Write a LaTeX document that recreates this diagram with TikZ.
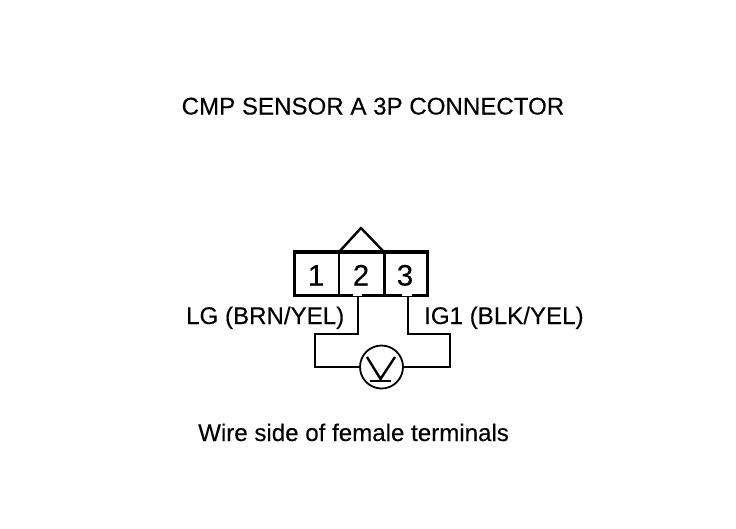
\documentclass[tikz,border=0pt]{standalone}
\usepackage{fontspec}
\setmainfont{Liberation Sans}[FakeBold=0.25]
\newfontfamily\lblfont{Liberation Sans}[FakeBold=0.2]
\tikzset{
 lbl/.style={inner sep=0pt,anchor=base west,font=\lblfont\fontsize{24.1}{28}\selectfont},
 pin/.style={inner sep=0pt,anchor=base,font=\lblfont\fontsize{29.5}{32}\selectfont},
 thick line/.style={line width=3.2pt,line join=miter},
 cavity/.style={line width=2.2pt},
 wire/.style={line width=1.5pt,line join=miter},
}
\begin{document}
\begin{tikzpicture}[x=1pt,y=-1pt]
\useasboundingbox[fill=white] (0,0) rectangle (736,528);
\node[lbl] (title) at (181.5,114.5) {CMP SENSOR A 3P CONNECTOR};
\node[lbl] (lg) at (186,324) {LG (BRN/YEL)};
\node[lbl] (ig) at (424,324) {IG1 (BLK/YEL)};
\node[lbl] (foot) at (198,441) {Wire side of female terminals};
\node[pin] (p1) at (316,285.5) {1};
\node[pin] (p2) at (361,285.5) {2};
\node[pin] (p3) at (405,285.5) {3};
\coordinate (tl) at (294.5,252);
\coordinate (tr) at (427.5,252);
\coordinate (bl) at (294.5,295.7);
\coordinate (br) at (427.5,295.7);
\coordinate (d1t) at (339,252);
\coordinate (d1b) at (339,296);
\coordinate (d2t) at (384,252);
\coordinate (d2b) at (384,296);
\coordinate (apex) at (361,228);
\draw[thick line] (tl) -- (tr) -- (br) -- (bl) -- cycle;
\fill[white] (352.7,293.5) rectangle (361.7,295.5);
\fill[white] (401.7,293.5) rectangle (411.7,295.5);
\draw[cavity] (d1t) -- (d1b);
\draw[line width=3pt] (d2t) -- (d2b);
\draw[line width=2.4pt,line join=miter] (d1t) -- (apex) -- (d2t);
\node[circle,draw,line width=1.8pt,minimum size=43pt,inner sep=0pt] (meter) at (381.5,367) {};
\coordinate (wl) at (358,296);
\coordinate (wr) at (408,296);
\draw[wire] (wl) -- (358,334) -- (315,334) -- (315,367) -- (meter.west);
\draw[wire] (wr) -- (408,334) -- (450,334) -- (450,367) -- (meter.east);
\coordinate (va) at (367,357);
\coordinate (vb) at (380.5,379);
\coordinate (vc) at (395,357);
\draw[line width=2.4pt,line join=miter] (va) -- (vb) -- (vc);
\coordinate (ua) at (369.5,381);
\coordinate (ub) at (391,381);
\draw[line width=2.4pt] (ua) -- (ub);
\end{tikzpicture}
\end{document}
